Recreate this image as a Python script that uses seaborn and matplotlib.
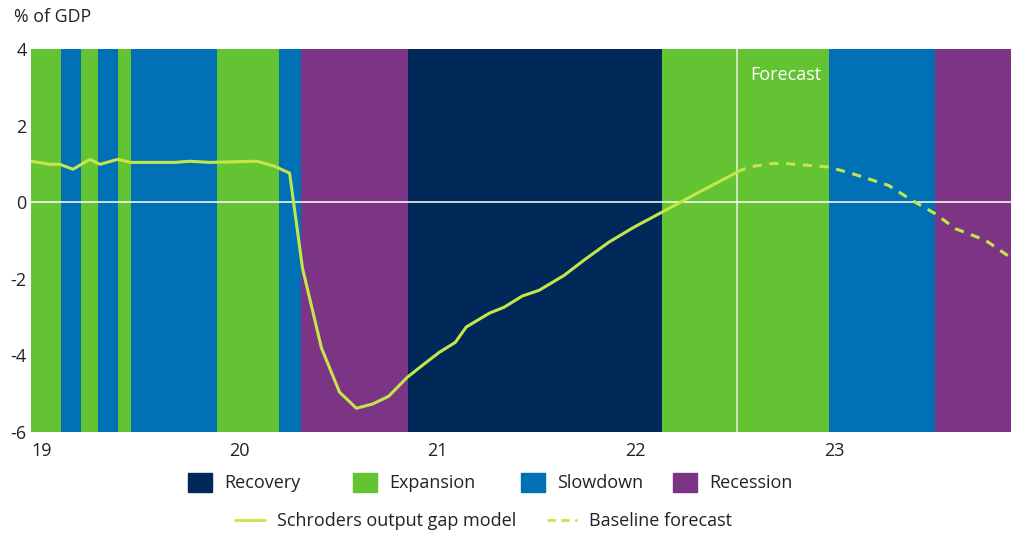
import matplotlib
matplotlib.use("Agg")
import matplotlib.pyplot as plt
import matplotlib.patches as mpatches
from matplotlib.lines import Line2D
import numpy as np
import pandas as pd
import seaborn as sns

# cycle phases (start, end in fractional years)
phase_start = [2019.0, 2019.151, 2019.252, 2019.338, 2019.438, 2019.504, 2019.937,
               2020.249, 2020.365, 2020.904, 2022.184, 2023.025, 2023.564]
phase_end = [2019.151, 2019.252, 2019.338, 2019.438, 2019.504, 2019.937, 2020.249,
             2020.365, 2020.904, 2022.184, 2023.025, 2023.564, 2023.95]
phase_name = ["Expansion", "Slowdown", "Expansion", "Slowdown", "Expansion", "Slowdown",
              "Expansion", "Slowdown", "Recession", "Recovery", "Expansion", "Slowdown",
              "Recession"]

# output gap model (history)
model_x = [2019.000, 2019.096, 2019.146, 2019.212, 2019.297, 2019.348, 2019.438, 2019.504,
           2019.725, 2019.801, 2019.902, 2020.139, 2020.229, 2020.305, 2020.370, 2020.466,
           2020.557, 2020.642, 2020.723, 2020.804, 2020.899, 2020.975, 2021.060, 2021.141,
           2021.196, 2021.312, 2021.388, 2021.479, 2021.564, 2021.690, 2021.791, 2021.917,
           2022.043, 2022.184, 2022.370, 2022.562]
model_y = [1.07, 0.99, 0.99, 0.86, 1.12, 0.99, 1.12, 1.04,
           1.04, 1.07, 1.04, 1.07, 0.94, 0.76, -1.72, -3.81,
           -4.96, -5.38, -5.27, -5.07, -4.57, -4.26, -3.92, -3.66,
           -3.26, -2.90, -2.74, -2.45, -2.30, -1.91, -1.51, -1.04,
           -0.65, -0.26, 0.26, 0.78]

# baseline forecast
fc_x = [2022.562, 2022.622, 2022.740, 2022.807, 2023.025, 2023.142, 2023.327, 2023.445,
        2023.563, 2023.664, 2023.815, 2023.950]
fc_y = [0.79, 0.92, 1.01, 1.01, 0.92, 0.75, 0.44, 0.05, -0.30, -0.69, -0.99, -1.47]

forecast_start = 2022.562
year_ticks = [2019, 2020, 2021, 2022, 2023]
year_labels = ["19", "20", "21", "22", "23"]
phase_order = ["Recovery", "Expansion", "Slowdown", "Recession"]

colors = {"Recovery": "#002858", "Expansion": "#63c332",
          "Slowdown": "#0071b4", "Recession": "#7b3584"}
line_color = "#c4e64a"
text_color = "#222222"

sns.set_style("white")
plt.rcParams["font.family"] = ["Open Sans", "DejaVu Sans"]
plt.rcParams["axes.unicode_minus"] = False

fig = plt.figure(figsize=(10.12, 5.33), dpi=100)
ax = fig.add_axes([0.0306, 0.1895, 0.9694, 0.7185])

for s, e, n in zip(phase_start, phase_end, phase_name):
    ax.axvspan(s, e, color=colors[n], lw=0, zorder=0)

ax.axhline(0, color="white", lw=1.3, alpha=0.85, zorder=1)
ax.axvline(forecast_start, color="white", lw=1.5, alpha=0.65, zorder=1)

hist = pd.DataFrame({"x": model_x, "y": model_y})
fc = pd.DataFrame({"x": fc_x, "y": fc_y})
sns.lineplot(data=hist, x="x", y="y", color=line_color, lw=2.2, ax=ax, zorder=3)
sns.lineplot(data=fc, x="x", y="y", color=line_color, lw=2.2, ax=ax, zorder=3,
             linestyle=(0, (3, 2.5)))

ax.text(2022.81, 3.32, "Forecast", color="white", fontsize=13, ha="center", va="center")

ax.set_xlim(2019.0, 2023.95)
ax.set_ylim(-6, 4)
ax.set_yticks([4, 2, 0, -2, -4, -6])
ax.set_xticks(year_ticks)
ax.set_xticklabels(year_labels, ha="left")
ax.tick_params(axis="both", length=0, labelsize=13, colors=text_color)
ax.tick_params(axis="x", pad=7)
ax.tick_params(axis="y", pad=3)
ax.set_xlabel("")
ax.set_ylabel("")
for sp in ax.spines.values():
    sp.set_visible(False)

fig.text(0.014, 0.968, "% of GDP", fontsize=12.8, color=text_color, va="center")

# legend, row 1: phases (one legend per item, placed at its square's left edge)
phase_leg_x = [0.1858, 0.3488, 0.5148, 0.6650]
for name, lx in zip(phase_order, phase_leg_x):
    leg = fig.legend(handles=[mpatches.Patch(color=colors[name], label=name)],
                     loc="center left", bbox_to_anchor=(lx, 0.0947), frameon=False,
                     fontsize=13, handlelength=1.33, handleheight=1.28,
                     handletextpad=0.67, borderpad=0, borderaxespad=0, labelcolor=text_color)

# legend, row 2: lines
line_handles = [Line2D([], [], color=line_color, lw=2, label="Schroders output gap model"),
                Line2D([], [], color=line_color, lw=2, linestyle=(0, (3, 2)),
                       label="Baseline forecast")]
line_leg_x = [0.2322, 0.5405]
for h, lx in zip(line_handles, line_leg_x):
    fig.legend(handles=[h], loc="center left", bbox_to_anchor=(lx, 0.0225), frameon=False,
               fontsize=13, handlelength=1.67, handletextpad=0.67, borderpad=0,
               borderaxespad=0, labelcolor=text_color)

fig.savefig("out.png", dpi=100)
